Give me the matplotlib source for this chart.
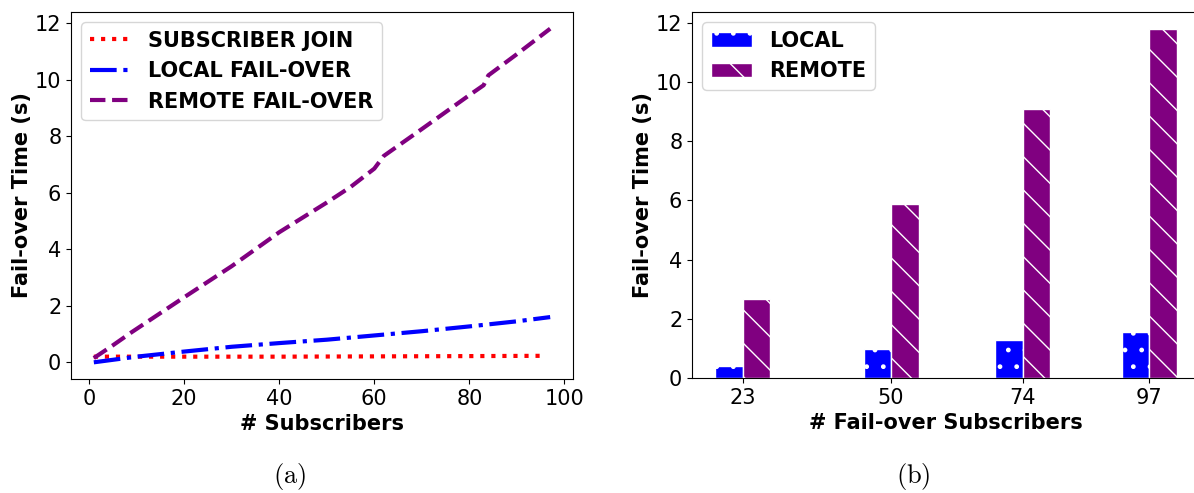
import numpy as np
import matplotlib
matplotlib.use('Agg')
import matplotlib.pyplot as plt

plt.rcParams['mathtext.fontset'] = 'cm'

# (a) line chart readings
remote_x = [1, 5, 9, 20, 30, 40, 50, 55, 60, 62, 70, 80, 83, 84, 90, 97]
remote_y = [0.15, 0.6, 1.07, 2.3, 3.4, 4.6, 5.65, 6.2, 6.85, 7.3, 8.25, 9.45, 9.8, 10.15, 10.9, 11.8]
local_x = [1, 10, 20, 30, 40, 50, 60, 70, 80, 90, 97]
local_y = [0.0, 0.2, 0.38, 0.55, 0.68, 0.8, 0.95, 1.1, 1.27, 1.45, 1.6]
join_x = [1, 20, 40, 60, 80, 96]
join_y = [0.2, 0.2, 0.2, 0.21, 0.22, 0.23]

# (b) bar chart
subs = [23, 50, 74, 97]
local_bar = [0.42, 0.97, 1.27, 1.56]
remote_bar = [2.67, 5.87, 9.07, 11.77]

fig = plt.figure(figsize=(11.94, 4.93), dpi=100)
W, H = 1194.0, 493.0
ax1 = fig.add_axes([71 / W, (H - 379) / H, 502 / W, 367 / H])
ax2 = fig.add_axes([692 / W, (H - 378) / H, 508 / W, 366 / H])

fs = 15

ax1.plot(join_x, join_y, color='red', linestyle=':', lw=3, label='SUBSCRIBER JOIN')
ax1.plot(local_x, local_y, color='blue', linestyle='-.', lw=3, label='LOCAL FAIL-OVER')
ax1.plot(remote_x, remote_y, color='purple', linestyle='--', lw=3, label='REMOTE FAIL-OVER')
ax1.set_xlabel('# Subscribers', fontsize=fs, fontweight='bold')
ax1.set_ylabel('Fail-over Time (s)', fontsize=fs, fontweight='bold', labelpad=2)
ax1.set_yticks(np.arange(0, 13, 2))
ax1.tick_params(labelsize=fs)
ax1.legend(loc='upper left', prop={'size': fs, 'weight': 'bold'})

w = 5
ax2.bar(np.array(subs) - w / 2, local_bar, width=w, color='blue', edgecolor='white',
        hatch='.', label='LOCAL')
ax2.bar(np.array(subs) + w / 2, remote_bar, width=w, color='purple', edgecolor='white',
        hatch='\\', label='REMOTE')
ax2.set_xticks(subs)
ax2.set_yticks(np.arange(0, 13, 2))
ax2.set_xlabel('# Fail-over Subscribers', fontsize=fs, fontweight='bold')
ax2.set_ylabel('Fail-over Time (s)', fontsize=fs, fontweight='bold', labelpad=2)
ax2.tick_params(labelsize=fs)
ax2.legend(loc='upper left', prop={'size': fs, 'weight': 'bold'})

fig.text(290 / W, 1 - 477 / H, r'$\mathrm{(a)}$', fontsize=19, ha='center', va='center')
fig.text(913 / W, 1 - 477 / H, r'$\mathrm{(b)}$', fontsize=19, ha='center', va='center')

fig.savefig('out.png', dpi=100)
